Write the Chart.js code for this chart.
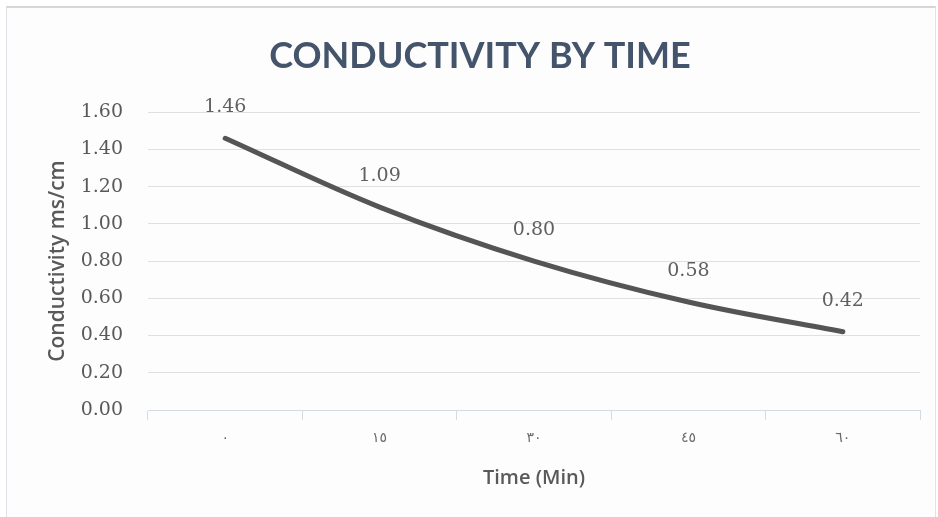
<!DOCTYPE html>
<html>
<head>
<meta charset="utf-8">
<title>Conductivity by time</title>
<script src="https://cdn.jsdelivr.net/npm/chart.js@4.4.1/dist/chart.umd.min.js"></script>
<style>
    html, body {
        margin: 0;
        padding: 0;
        background: #ffffff;
    }
    #frame {
        position: absolute;
        left: 6px;
        top: 6px;
        width: 928px;
        height: 520px;
        border: 1px solid #dfe3e8;
        border-top: 2px solid #d6d6d6;
        background: #fdfdfd;
    }
    #wrap {
        position: absolute;
        left: 0;
        top: 0;
        width: 938px;
        height: 517px;
    }
</style>
</head>
<body>
<div id="frame"></div>
<div id="wrap">
    <canvas id="conductivity-chart" width="938" height="517"></canvas>
</div>
<script>
// Chart values
const timeLabels = ["٠", "١٥", "٣٠", "٤٥", "٦٠"]; // minutes, Arabic-Indic digits
const conductivityValues = [1.46, 1.09, 0.80, 0.58, 0.42]; // ms/cm
const yTicks = [0, 0.2, 0.4, 0.6, 0.8, 1.0, 1.2, 1.4, 1.6];

const chartTitle = "CONDUCTIVITY BY TIME";
const yTitle = "Conductivity ms/cm";
const xTitle = "Time (Min)";

const textGray = "#595959";

// Draws the value above each point (like Excel data labels)
const valueLabels = {
    id: "valueLabels",
    afterDatasetsDraw(chart) {
        const ctx = chart.ctx;
        const meta = chart.getDatasetMeta(0);
        ctx.save();
        ctx.font = "19px 'DejaVu Serif'";
        ctx.fillStyle = "#606060";
        ctx.textAlign = "center";
        ctx.textBaseline = "middle";
        meta.data.forEach((pt, i) => {
            ctx.fillText(conductivityValues[i].toFixed(2), pt.x, pt.y - 31);
        });
        ctx.restore();
    }
};

const chartCanvas = document.getElementById("conductivity-chart");

new Chart(chartCanvas, {
    type: "line",
    data: {
        labels: timeLabels,
        datasets: [
            {
                label: "Conductivity",
                data: conductivityValues,
                borderColor: "#555555",
                borderWidth: 5,
                borderCapStyle: "round",
                tension: 0.35,
                pointRadius: 0,
                fill: false,
            },
        ],
    },
    options: {
        responsive: false,
        animation: false,
        layout: {
            padding: { left: 40, right: 18, top: 0, bottom: 0 },
        },
        plugins: {
            legend: { display: false },
            tooltip: { enabled: false },
            title: {
                display: true,
                text: chartTitle,
                color: "#44546a",
                font: { family: "Lato", size: 36, weight: "bold" },
                padding: { top: 35, bottom: 34 },
            },
        },
        scales: {
            x: {
                offset: true,
                grid: {
                    offset: true,
                    drawOnChartArea: false,
                    drawTicks: true,
                    tickLength: 10,
                    color: "#d5dbe3",
                },
                border: { display: true, color: "#d5dbe3", width: 1 },
                ticks: {
                    color: "#6a6a6a",
                    padding: 10,
                    font: { family: "DejaVu Sans", size: 14 },
                },
                title: {
                    display: true,
                    text: xTitle,
                    color: textGray,
                    font: { family: "Open Sans", size: 20, weight: "600" },
                    padding: { top: 0, bottom: 27 },
                },
                afterFit(scale) {
                    scale.height = 107;
                },
            },
            y: {
                min: 0,
                max: 1.6,
                afterBuildTicks(scale) {
                    scale.ticks = yTicks.map((v) => ({ value: v }));
                },
                grid: {
                    color: "#e0e0e0",
                    drawTicks: false,
                },
                border: { display: false },
                ticks: {
                    color: textGray,
                    padding: 25,
                    font: { family: "DejaVu Serif", size: 19 },
                    callback: (value) => Number(value).toFixed(2),
                },
                title: {
                    display: true,
                    text: yTitle,
                    color: textGray,
                    font: { family: "Open Sans", size: 21, weight: "600" },
                    padding: { top: 5, bottom: 0 },
                },
                afterFit(scale) {
                    scale.width = 108;
                },
            },
        },
    },
    plugins: [valueLabels],
});
</script>
</body>
</html>
